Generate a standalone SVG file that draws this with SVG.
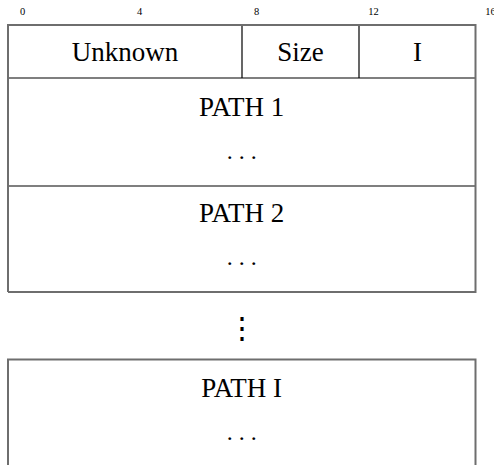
<svg xmlns="http://www.w3.org/2000/svg" width="494" height="465" viewBox="0 0 494 465">
<style>
.bg{fill:#ffffff}
.outer{fill:none;stroke:#6e6e6e;stroke-width:2}
.inner{fill:none;stroke:#000000;stroke-width:1.2}
.lbl{font-family:"Liberation Serif","Times New Roman",serif;font-size:27px;fill:#000;text-anchor:middle}
.dots{font-family:"Liberation Serif","Times New Roman",serif;font-size:24px;fill:#000;text-anchor:middle}
.vdots{font-family:"DejaVu Serif",serif;font-size:30px;fill:#000;text-anchor:middle}
.tick{font-family:"Liberation Serif","Times New Roman",serif;font-size:10.5px;fill:#000;text-anchor:middle}
</style>
<rect class="bg" x="0" y="0" width="494" height="465"/>
<g id="ticks">
<text class="tick" x="22.6" y="15">0</text>
<text class="tick" x="139.6" y="15">4</text>
<text class="tick" x="256.6" y="15">8</text>
<text class="tick" x="373.6" y="15">12</text>
<text class="tick" x="490.6" y="15">16</text>
</g>
<g id="connectors">
<line class="inner" x1="8" y1="78" x2="475.5" y2="78"/>
<line class="inner" x1="242" y1="25" x2="242" y2="78"/>
<line class="inner" x1="359" y1="25" x2="359" y2="78"/>
<line class="inner" x1="8" y1="186" x2="475.5" y2="186"/>
</g>
<g id="frame">
<path class="outer" d="M8,292 V25 H475.5 V292 H8"/>
</g>
<g id="unknown"><text class="lbl" x="125" y="61">Unknown</text></g>
<g id="size"><text class="lbl" x="300.5" y="61">Size</text></g>
<g id="i"><text class="lbl" x="417.5" y="61">I</text></g>
<g id="path1">
<text class="lbl" x="241.7" y="116">PATH 1</text>
<text class="dots" x="241.7" y="159">. . .</text>
</g>
<g id="path2">
<text class="lbl" x="241.7" y="222">PATH 2</text>
<text class="dots" x="241.7" y="265">. . .</text>
</g>
<g id="vdots">
<text class="vdots" x="241.7" y="338">⋮</text>
</g>
<g id="pathI">
<path class="outer" d="M8,470 V359.5 H475.5 V470"/>
<text class="lbl" x="241.7" y="397">PATH I</text>
<text class="dots" x="241.7" y="440">. . .</text>
</g>
</svg>
